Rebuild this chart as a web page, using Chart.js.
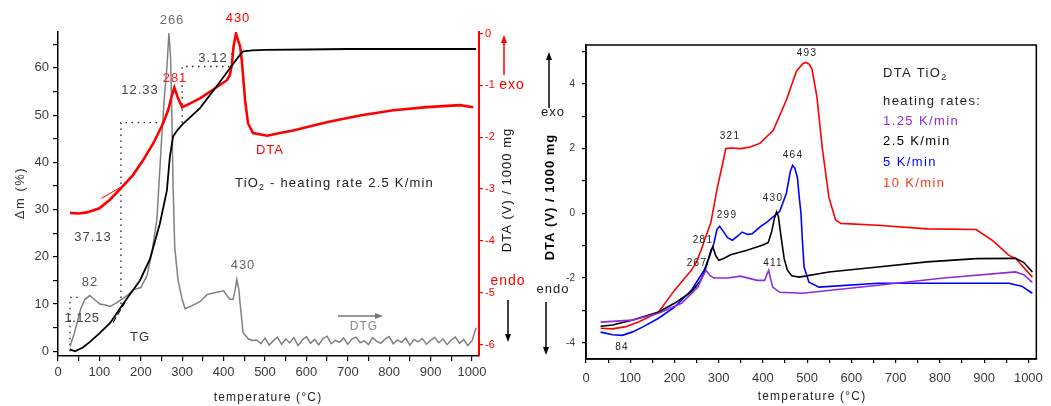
<!DOCTYPE html>
<html>
<head>
<meta charset="utf-8">
<script src="https://cdn.jsdelivr.net/npm/chart.js@4.4.0/dist/chart.umd.min.js"></script>
<style>
  body { margin: 0; background: #fff; }
  #wrap { position: relative; width: 1051px; height: 406px; overflow: hidden; }
  #tgChart { position: absolute; left: 0; top: 0; }
  #rateChart { position: absolute; left: 530px; top: 0; }
</style>
</head>
<body>
<div id="wrap">
  <canvas id="tgChart" width="530" height="406"></canvas>
  <canvas id="rateChart" width="521" height="406"></canvas>
</div>
<script>
// ---- left panel: TiO2, heating rate 2.5 K/min ----
const tgTemp = [29, 41, 60, 77, 100, 126, 157, 198, 222, 246, 263, 270, 278, 290, 300, 343, 391, 420, 440, 447, 470, 500, 600, 700, 800, 900, 1010];
const tgMass = [0.4, 0, 0.8, 2, 3.8, 6, 10, 15, 19.5, 27, 34, 41, 45.5, 47, 48, 51.5, 57, 60.5, 62.8, 63.5, 63.7, 63.8, 63.9, 64, 64, 64, 64];

const dtaTemp = [29, 50, 70, 100, 126, 150, 181, 205, 230, 254, 266, 275, 281, 290, 300, 311, 343, 375, 408, 415, 420, 424, 430, 435, 440, 444, 452, 459, 471, 505, 536, 568, 649, 729, 810, 891, 971, 1003];
const dtaV = [-3.46, -3.47, -3.45, -3.37, -3.2, -3.0, -2.73, -2.45, -2.12, -1.73, -1.48, -1.2, -1.04, -1.25, -1.42, -1.38, -1.25, -1.08, -0.9, -0.8, -0.6, -0.25, 0.0, -0.13, -0.25, -0.52, -1.29, -1.73, -1.92, -1.97, -1.92, -1.87, -1.71, -1.58, -1.48, -1.42, -1.38, -1.42];

const dtgTemp = [29, 40, 55, 65, 77, 90, 101, 115, 126, 140, 150, 170, 181, 200, 215, 227, 239, 251, 258, 263, 268, 272, 275, 278, 282, 290, 300, 307, 320, 343, 360, 383, 400, 415, 423, 428, 432, 437, 440, 447, 460, 471,
  480, 490, 500, 510, 520, 530, 540, 550, 560, 570, 580, 590, 600, 610, 620, 630, 640, 650, 660, 670, 680, 690, 700, 710, 720, 730, 740, 750, 760, 770, 780, 790, 800, 810, 820, 830, 840, 850, 860, 870, 880, 890, 900, 910, 920, 930, 940, 950, 960, 970, 980, 990, 1000, 1010];
const dtgVal = [1, 4, 9, 11, 11.8, 10.8, 10, 9.8, 9.5, 10.2, 10.8, 12, 13, 13.5, 16, 21, 28, 46, 55, 60, 67.4, 62, 50, 35, 22, 15, 11, 9, 9.5, 10.5, 12, 12.5, 12.8, 11, 11, 13, 15.2, 13, 10, 4, 2.6, 2.3,
  2.4, 1.6, 2.8, 1.3, 2.2, 3.0, 1.5, 2.6, 1.8, 2.9, 1.2, 2.4, 3.1, 1.7, 2.5, 1.4, 2.7, 3.2, 1.6, 2.3, 1.9, 2.8, 1.5, 2.6, 3.0, 1.8, 2.2, 1.4, 2.9, 2.1, 1.7, 2.6, 3.1, 1.6, 2.4, 1.9, 2.8, 1.3, 2.5, 2.0, 2.7, 1.5, 2.3, 2.9, 1.8, 2.6, 1.4, 2.4, 3.0, 1.7, 2.5, 1.2, 2.2, 5];

// mass-loss step marks (temp, mass) as separate dotted segments
const stepTemp = [[29, 29, 58], [152, 152, 263], [300, 300, 415], [420, 420]];
const stepMass = [[0, 11.4, 11.4], [10, 48.4, 48.4], [48.4, 60.3, 60.3], [60.3, 63.5]];
const tgTangentT = [133, 162];
const tgTangentM = [6.1, 10.4];
const dtaTangentT = [105, 165];
const dtaTangentV = [-3.18, -2.9];

// ---- right panel: DTA at four heating rates ----
const r10Temp = [33, 60, 90, 120, 150, 164, 180, 200, 220, 238, 250, 260, 270, 282, 297, 309, 316, 327, 350, 371, 393, 423, 453, 476, 490, 497, 505, 511, 522, 534, 549, 564, 576, 660, 771, 882, 920, 956, 971, 1009];
const r10Val = [-3.55, -3.57, -3.5, -3.35, -3.15, -3.05, -2.75, -2.38, -2.05, -1.76, -1.5, -1.14, -0.75, -0.3, 0.8, 1.54, 2.0, 2.02, 2.0, 2.05, 2.16, 2.56, 3.5, 4.4, 4.62, 4.66, 4.6, 4.45, 3.6, 2.04, 0.5, -0.2, -0.31, -0.37, -0.48, -0.5, -0.85, -1.3, -1.39, -1.97];

const r25Temp = [33, 60, 104, 164, 200, 238, 258, 267, 277, 283, 287, 293, 300, 310, 327, 364, 400, 412, 420, 426, 431, 435, 442, 448, 455, 465, 482, 549, 660, 771, 882, 971, 990, 1009];
const r25Val = [-3.49, -3.45, -3.3, -3.05, -2.78, -2.43, -2.1, -1.85, -1.4, -1.12, -1.04, -1.3, -1.45, -1.4, -1.28, -1.14, -0.98, -0.9, -0.55, -0.15, 0.05, -0.1, -0.83, -1.4, -1.75, -1.93, -1.97, -1.81, -1.66, -1.5, -1.4, -1.39, -1.52, -1.81];

const r5Temp = [33, 60, 82, 104, 130, 164, 200, 238, 267, 280, 289, 296, 302, 310, 320, 331, 343, 353, 365, 376, 395, 409, 438, 453, 462, 467, 472, 478, 482, 486, 489, 493, 504, 527, 660, 809, 956, 985, 1009];
const r5Val = [-3.67, -3.75, -3.77, -3.67, -3.5, -3.24, -2.9, -2.38, -1.76, -1.3, -0.93, -0.5, -0.4, -0.55, -0.75, -0.83, -0.7, -0.58, -0.65, -0.63, -0.4, -0.27, 0.06, 0.62, 1.3, 1.48, 1.4, 1.1, 0.5, 0, -0.8, -1.66, -2.13, -2.28, -2.16, -2.16, -2.16, -2.25, -2.47];

const r125Temp = [33, 104, 164, 216, 253, 262, 271, 280, 289, 320, 349, 387, 404, 410, 413, 417, 422, 438, 489, 660, 809, 971, 990, 1009];
const r125Val = [-3.36, -3.3, -3.09, -2.78, -2.28, -2.0, -1.76, -1.92, -2.0, -2.0, -1.94, -2.07, -2.07, -1.85, -1.76, -2.0, -2.28, -2.44, -2.47, -2.22, -2.0, -1.81, -1.9, -2.13];

const rateNames = ['1.25 K/min', '2.5 K/min', '5 K/min', '10 K/min'];
const rateColors = ['#8b2be8', '#000000', '#0000ff', '#ff0000'];

const FONT = '"Liberation Sans", Arial, sans-serif';
Chart.defaults.font.family = FONT;

function pts(xs, ys) {
  return xs.map(function (x, i) { return { x: x, y: ys[i] }; });
}

function put(ctx, s, x, y, o) {
  o = o || {};
  ctx.save();
  ctx.font = (o.bold ? 'bold ' : '') + (o.size || 13) + 'px ' + FONT;
  ctx.fillStyle = o.color || '#333';
  ctx.textAlign = o.align || 'center';
  ctx.textBaseline = 'middle';
  ctx.letterSpacing = (o.sp == null ? 1 : o.sp) + 'px';
  if (o.rot) {
    ctx.translate(x, y);
    ctx.rotate(o.rot);
    ctx.fillText(s, 0, 0);
  } else {
    ctx.fillText(s, x, y);
  }
  ctx.restore();
}

// prefix + "TiO" + subscript 2 + rest, left aligned
function putTiO2(ctx, x, y, prefix, rest, size, color, sp) {
  ctx.save();
  ctx.font = size + 'px ' + FONT;
  ctx.letterSpacing = sp + 'px';
  ctx.fillStyle = color;
  ctx.textAlign = 'left';
  ctx.textBaseline = 'middle';
  ctx.fillText(prefix + 'TiO', x, y);
  let w = ctx.measureText(prefix + 'TiO').width;
  ctx.font = Math.round(size * 0.7) + 'px ' + FONT;
  ctx.fillText('2', x + w, y + 5);
  w += ctx.measureText('2').width;
  ctx.font = size + 'px ' + FONT;
  if (rest) ctx.fillText(rest, x + w, y);
  ctx.restore();
}

function vArrow(ctx, x, y1, y2, color) {
  const d = y2 > y1 ? 1 : -1;
  ctx.save();
  ctx.strokeStyle = color;
  ctx.fillStyle = color;
  ctx.lineWidth = 1.5;
  ctx.beginPath();
  ctx.moveTo(x, y1);
  ctx.lineTo(x, y2 - d * 4);
  ctx.stroke();
  ctx.beginPath();
  ctx.moveTo(x, y2);
  ctx.lineTo(x - 3, y2 - d * 8);
  ctx.lineTo(x + 3, y2 - d * 8);
  ctx.closePath();
  ctx.fill();
  ctx.restore();
}

function hArrow(ctx, x1, x2, y, color) {
  ctx.save();
  ctx.strokeStyle = color;
  ctx.fillStyle = color;
  ctx.lineWidth = 1.5;
  ctx.beginPath();
  ctx.moveTo(x1, y);
  ctx.lineTo(x2 - 4, y);
  ctx.stroke();
  ctx.beginPath();
  ctx.moveTo(x2, y);
  ctx.lineTo(x2 - 8, y - 3);
  ctx.lineTo(x2 - 8, y + 3);
  ctx.closePath();
  ctx.fill();
  ctx.restore();
}

function everyHundred(v) {
  return Math.abs(v % 100) < 1e-6 ? v : '';
}

const tickFont = { size: 13 };
const tickGrey = '#3a3a3a';

// ---- left chart ----
const leftDecor = {
  id: 'leftDecor',
  afterDraw(chart) {
    const ctx = chart.ctx;
    put(ctx, '266', 172, 20, { color: '#707070' });
    put(ctx, '430', 238, 18, { color: '#ff0000' });
    put(ctx, '281', 175, 78, { color: '#ff2020' });
    put(ctx, '12.33', 140, 90, { color: '#444' });
    put(ctx, '3.12', 213, 58, { color: '#444' });
    put(ctx, 'DTA', 270, 150, { color: '#ff0000' });
    putTiO2(ctx, 235, 183, '', ' - heating rate 2.5 K/min', 13, '#222', 1.2);
    put(ctx, '37.13', 93, 237, { color: '#444' });
    put(ctx, '82', 90, 282, { color: '#555' });
    put(ctx, '1.125', 82, 318, { color: '#444', sp: 0.5 });
    put(ctx, 'TG', 140, 337, { color: '#333' });
    put(ctx, '430', 243, 265, { color: '#666' });
    put(ctx, 'DTG', 364, 327, { color: '#888', size: 12 });
    hArrow(ctx, 338, 383, 316, '#777');

    put(ctx, 'exo', 512, 85, { color: '#ff0000', size: 14 });
    vArrow(ctx, 504, 75, 35, '#ff0000');
    put(ctx, 'endo', 508, 281, { color: '#ff0000', size: 14 });
    vArrow(ctx, 508, 300, 342, '#000');

    put(ctx, 'DTA (V) / 1000 mg', 507, 190, { color: '#111', size: 13, rot: -Math.PI / 2, sp: 1 });
    put(ctx, '\u0394m (%)', 20, 193, { color: '#333', size: 13, rot: -Math.PI / 2, sp: 1.5 });
    put(ctx, 'temperature (\u00b0C)', 268, 398, { color: '#222', size: 12, sp: 1.2 });
  }
};

const leftSets = [
  { data: pts(tgTemp, tgMass), yAxisID: 'y', borderColor: '#000', borderWidth: 1.8 },
  { data: pts(tgTangentT, tgTangentM), yAxisID: 'y', borderColor: '#000', borderWidth: 1.2, borderDash: [6, 3] },
  { data: pts(dtaTemp, dtaV), yAxisID: 'y2', borderColor: '#ff0000', borderWidth: 2.6 },
  { data: pts(dtaTangentT, dtaTangentV), yAxisID: 'y2', borderColor: '#ff0000', borderWidth: 1 },
  { data: pts(dtgTemp, dtgVal), yAxisID: 'y', borderColor: '#808080', borderWidth: 1.5 }
];
stepTemp.forEach(function (t, i) {
  leftSets.push({ data: pts(t, stepMass[i]), yAxisID: 'y', borderColor: '#222', borderWidth: 1.3, borderDash: [1.5, 4.5] });
});

new Chart(document.getElementById('tgChart'), {
  type: 'line',
  data: { datasets: leftSets },
  options: {
    responsive: false,
    animation: false,
    devicePixelRatio: 1,
    layout: { padding: { top: 32, left: 0, right: 0, bottom: 0 } },
    elements: { point: { radius: 0 }, line: { tension: 0 } },
    plugins: { legend: { display: false }, tooltip: { enabled: false } },
    scales: {
      x: {
        type: 'linear', min: 0, max: 1017,
        afterFit: function (s) { s.height = 50; },
        ticks: { stepSize: 50, autoSkip: false, includeBounds: false, maxRotation: 0, padding: 4, color: tickGrey, font: tickFont, callback: everyHundred },
        grid: { drawOnChartArea: false, tickLength: 5, color: '#000', lineWidth: 1.2 },
        border: { color: '#000', width: 1.5 }
      },
      y: {
        position: 'left', min: -1, max: 67.6,
        afterFit: function (s) { s.width = 58; },
        ticks: { stepSize: 5, autoSkip: false, includeBounds: false, padding: 4, color: tickGrey, font: tickFont,
          callback: function (v) { return Math.abs(v % 10) < 1e-6 ? v : ''; } },
        grid: { drawOnChartArea: false, tickLength: 5, color: '#000', lineWidth: 1.2 },
        border: { color: '#000', width: 1.5 }
      },
      y2: {
        position: 'right', min: -6.22, max: 0.03,
        afterFit: function (s) { s.width = 51; },
        ticks: { stepSize: 1, autoSkip: false, includeBounds: false, padding: 2, color: '#ff0000', font: { size: 11 } },
        grid: { drawOnChartArea: false, tickLength: 4, color: '#ff0000', lineWidth: 1.2 },
        border: { color: '#ff0000', width: 2 }
      }
    }
  },
  plugins: [leftDecor]
});

// ---- right chart ----
const OFF = 530;
const rightDecor = {
  id: 'rightDecor',
  afterDraw(chart) {
    const ctx = chart.ctx;
    const a = chart.chartArea;
    ctx.save();
    ctx.strokeStyle = '#000';
    ctx.lineWidth = 1.5;
    ctx.strokeRect(a.left, a.top, a.right - a.left, a.bottom - a.top);
    ctx.restore();

    const small = { color: '#222', size: 10, sp: 1.2 };
    put(ctx, '493', 807 - OFF, 53, small);
    put(ctx, '321', 730 - OFF, 136, small);
    put(ctx, '464', 793 - OFF, 155, small);
    put(ctx, '430', 773 - OFF, 198, small);
    put(ctx, '299', 727 - OFF, 215, small);
    put(ctx, '281', 703 - OFF, 240, small);
    put(ctx, '267', 697 - OFF, 263, small);
    put(ctx, '411', 773 - OFF, 263, small);
    put(ctx, '84', 622 - OFF, 347, small);

    // legend block
    putTiO2(ctx, 883 - OFF, 73, 'DTA ', '', 13, '#222', 1.3);
    put(ctx, 'heating rates:', 883 - OFF, 101, { color: '#222', size: 13, sp: 1.4, align: 'left' });
    const rows = [121, 141, 162, 183];
    rateNames.forEach(function (n, i) {
      put(ctx, n, 883 - OFF, rows[i], { color: i === 3 ? '#ff3a1a' : rateColors[i], size: 13, sp: 1.4, align: 'left' });
    });

    put(ctx, 'DTA (V) / 1000 mg', 550 - OFF, 197, { color: '#000', size: 13, bold: true, rot: -Math.PI / 2, sp: 1 });
    vArrow(ctx, 549 - OFF, 108, 52, '#000');
    put(ctx, 'exo', 553 - OFF, 112, { color: '#222', size: 13 });
    put(ctx, 'endo', 553 - OFF, 289, { color: '#222', size: 13 });
    vArrow(ctx, 546 - OFF, 302, 355, '#000');
    put(ctx, 'temperature (\u00b0C)', 812 - OFF, 397, { color: '#222', size: 12, sp: 1.2 });
  }
};

const rateTemps = [r125Temp, r25Temp, r5Temp, r10Temp];
const rateVals = [r125Val, r25Val, r5Val, r10Val];

new Chart(document.getElementById('rateChart'), {
  type: 'line',
  data: {
    datasets: rateNames.map(function (n, i) {
      return { label: n, data: pts(rateTemps[i], rateVals[i]), borderColor: rateColors[i], borderWidth: 1.6 };
    })
  },
  options: {
    responsive: false,
    animation: false,
    devicePixelRatio: 1,
    layout: { padding: { top: 45, left: 0, right: 10, bottom: 0 } },
    elements: { point: { radius: 0 }, line: { tension: 0 } },
    plugins: { legend: { display: false }, tooltip: { enabled: false } },
    scales: {
      x: {
        type: 'linear', min: 0, max: 1018,
        afterFit: function (s) { s.height = 47; },
        ticks: { stepSize: 50, autoSkip: false, includeBounds: false, maxRotation: 0, padding: 8, color: tickGrey, font: tickFont, callback: everyHundred },
        grid: { drawOnChartArea: false, tickLength: 4, color: '#000', lineWidth: 1.2 },
        border: { color: '#000', width: 1.5 }
      },
      y: {
        position: 'left', min: -4.5, max: 5.2,
        afterFit: function (s) { s.width = 56; },
        ticks: { stepSize: 1, autoSkip: false, includeBounds: false, padding: 7, color: tickGrey, font: { size: 10 },
          callback: function (v) { return Math.abs(v % 2) < 1e-6 ? v : ''; } },
        grid: { drawOnChartArea: false, tickLength: 4, color: '#000', lineWidth: 1.2 },
        border: { color: '#000', width: 1.5 }
      }
    }
  },
  plugins: [rightDecor]
});
</script>
</body>
</html>
